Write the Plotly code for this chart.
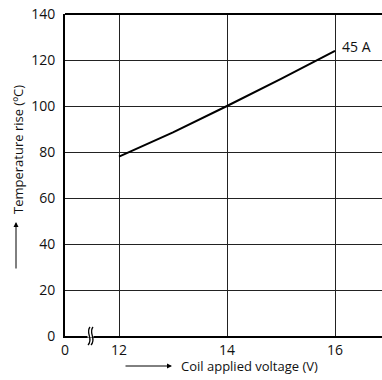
import plotly.graph_objects as go

voltage = [12, 13, 14, 15, 16]
temp_rise = [78, 88.5, 100, 111.8, 124]
series_label = "45 A"
x_tickvals = [11, 12, 14, 16]
x_ticktext = ["0", "12", "14", "16"]
y_tickvals = [0, 20, 40, 60, 80, 100, 120, 140]

W, H = 382, 380
ml, mr, mt, mb = 65, 0, 14, 44
pw, ph = W - ml - mr, H - mt - mb
FONT = "Open Sans"

def px(xp):
    return (xp - ml) / pw

def py(yp):
    return (H - mb - yp) / ph

fig = go.Figure()
fig.add_trace(go.Scatter(x=voltage, y=temp_rise, mode="lines",
                         line=dict(color="black", width=2), showlegend=False))

fig.update_layout(
    width=W, height=H, margin=dict(l=ml, r=mr, t=mt, b=mb),
    plot_bgcolor="white", paper_bgcolor="white",
    font=dict(family=FONT, size=14, color="#111"),
    xaxis=dict(range=[11, 11 + pw / 54.0], tickvals=x_tickvals, ticktext=x_ticktext,
               showgrid=True, gridcolor="#222", gridwidth=1, zeroline=False,
               showline=True, linecolor="black", linewidth=2, ticks="",
               tickfont=dict(size=14), fixedrange=True),
    yaxis=dict(range=[0, 140], tickvals=y_tickvals, showgrid=True, gridcolor="#222",
               gridwidth=1, zeroline=False, showline=True, linecolor="black",
               linewidth=2, ticks="", tickfont=dict(size=14), mirror=False,
               ticklabelstandoff=5),
)

# top border
fig.add_shape(type="line", xref="paper", yref="paper", x0=0, x1=1, y0=1, y1=1,
              line=dict(color="black", width=2))

# axis break squiggles
fig.add_shape(type="rect", xref="paper", yref="paper", x0=px(87.5), x1=px(93.5),
              y0=py(337.5), y1=py(334.5), fillcolor="white", line=dict(width=0))
for dx in (0, 3):
    path = (f"M {px(90+dx)},{py(327)} C {px(85+dx)},{py(333)} {px(94+dx)},{py(339)} "
            f"{px(88+dx)},{py(345)}")
    fig.add_shape(type="path", xref="paper", yref="paper", path=path,
                  line=dict(color="black", width=1.3))

# series label
fig.add_annotation(x=voltage[-1], y=temp_rise[-1], text=series_label, showarrow=False,
                   xanchor="left", yanchor="middle", xshift=5, yshift=4,
                   font=dict(size=14))

# axis titles
fig.add_annotation(xref="paper", yref="paper", x=px(18), y=py(150),
                   xanchor="center", yanchor="middle",
                   text="Temperature rise (ºC)", textangle=-90, showarrow=False,
                   font=dict(size=13))
fig.add_annotation(xref="paper", yref="paper", x=px(16), y=py(222), text="",
                   showarrow=True, ax=0, ay=48, arrowhead=2, arrowsize=1,
                   arrowwidth=1, arrowcolor="black")
fig.add_annotation(xref="paper", yref="paper", x=px(249), y=py(366),
                   xanchor="center", yanchor="middle",
                   text="Coil applied voltage (V)", showarrow=False,
                   font=dict(size=13))
fig.add_annotation(xref="paper", yref="paper", x=px(172), y=py(366), text="",
                   showarrow=True, ax=-48, ay=0, arrowhead=2, arrowsize=1,
                   arrowwidth=1, arrowcolor="black")

fig.write_html("out.html", config={"displayModeBar": False},
               post_script="document.body.style.margin='0';")
